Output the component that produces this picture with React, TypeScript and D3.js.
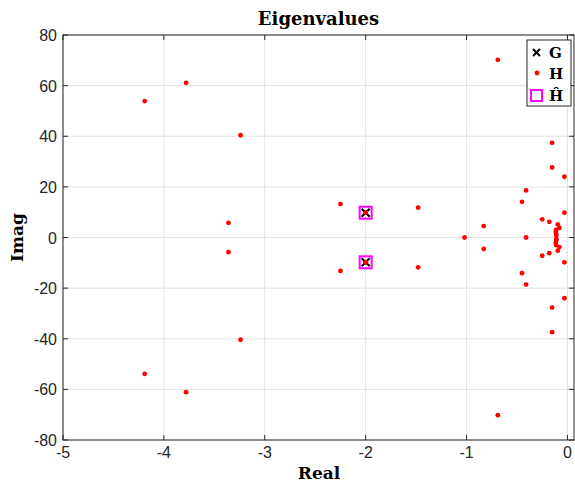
import React from "react";
import * as d3 from "d3";

const gRe = [-2, -2];
const gIm = [9.8, -9.8];

const hhatRe = [-2, -2];
const hhatIm = [9.8, -9.8];

const hRe = [
  -4.19, -4.19, -3.78, -3.78, -3.24, -3.24, -3.36, -3.36, -2.25, -2.25,
  -2, -2, -1.48, -1.48, -1.02, -0.83, -0.83, -0.69, -0.69, -0.45, -0.45,
  -0.41, -0.41, -0.41, -0.152, -0.152, -0.152, -0.152, -0.03, -0.03, -0.03, -0.03,
  -0.25, -0.25, -0.18, -0.18, -0.096, -0.096, -0.08, -0.08,
  -0.112, -0.112, -0.115, -0.115, -0.112, -0.112, -0.11, -0.11,
];
const hIm = [
  53.9, -53.9, 61.1, -61.1, 40.4, -40.4, 5.8, -5.8, 13.2, -13.2,
  9.8, -9.8, 11.8, -11.8, 0, 4.5, -4.5, 70.2, -70.2, 14.1, -14.1,
  18.6, -18.6, 0, 37.4, -37.4, 27.7, -27.7, 24, -24, 9.8, -9.8,
  7.2, -7.2, 6.2, -6.2, 5.2, -5.2, 3.8, -3.8,
  3.0, -3.0, 2.2, -2.2, 1.4, -1.4, 0.7, -0.7,
];

const xTicks = [-5, -4, -3, -2, -1, 0];
const yTicks = [-80, -60, -40, -20, 0, 20, 40, 60, 80];

const W = 575;
const H = 485;
const L = 63, R = 574, T = 35, B = 440;

export default function App() {
  const x = d3.scaleLinear().domain([-5, 0.065]).range([L, R]);
  const y = d3.scaleLinear().domain([-80, 80]).range([B, T]);
  const axisColor = "#262626";
  const serif = "'DejaVu Serif', 'Liberation Serif', serif";
  const sans = "'Liberation Sans', Arial, sans-serif";
  const legX = 527, legY = 40, legW = 44, legH = 66;
  return (
    <svg width={W} height={H} style={{ position: "absolute", left: 0, top: 0, background: "#fff" }}>
      <rect x={0} y={0} width={W} height={H} fill="#fff" />
      {xTicks.map((t) => (
        <line key={"gx" + t} x1={x(t)} x2={x(t)} y1={T} y2={B} stroke="#e3e3e3" strokeWidth={1} />
      ))}
      {yTicks.map((t) => (
        <line key={"gy" + t} x1={L} x2={R} y1={y(t)} y2={y(t)} stroke="#e3e3e3" strokeWidth={1} />
      ))}
      {hRe.map((re, i) => (
        <circle key={"h" + i} cx={x(re)} cy={y(hIm[i])} r={2.4} fill="#ff0000" />
      ))}
      {hhatRe.map((re, i) => (
        <rect key={"hh" + i} x={x(re) - 6} y={y(hhatIm[i]) - 6} width={12} height={12} fill="none" stroke="#ff00ff" strokeWidth={2} />
      ))}
      {gRe.map((re, i) => {
        const cx = x(re), cy = y(gIm[i]);
        return (
          <g key={"g" + i} stroke="#000" strokeWidth={2}>
            <line x1={cx - 4} y1={cy - 4} x2={cx + 4} y2={cy + 4} />
            <line x1={cx - 4} y1={cy + 4} x2={cx + 4} y2={cy - 4} />
          </g>
        );
      })}
      {hRe.map((re, i) =>
        re === -2 ? <circle key={"ho" + i} cx={x(re)} cy={y(hIm[i])} r={2.4} fill="#ff0000" /> : null
      )}
      <rect x={L} y={T} width={R - L} height={B - T} fill="none" stroke={axisColor} strokeWidth={1} />
      {xTicks.map((t) => (
        <g key={"tx" + t}>
          <line x1={x(t)} x2={x(t)} y1={B} y2={B - 5} stroke={axisColor} />
          <line x1={x(t)} x2={x(t)} y1={T} y2={T + 5} stroke={axisColor} />
          <text x={x(t)} y={B + 18} textAnchor="middle" fontFamily={sans} fontSize={16} fill={axisColor}>
            {t}
          </text>
        </g>
      ))}
      {yTicks.map((t) => (
        <g key={"ty" + t}>
          <line x1={L} x2={L + 5} y1={y(t)} y2={y(t)} stroke={axisColor} />
          <line x1={R} x2={R - 5} y1={y(t)} y2={y(t)} stroke={axisColor} />
          <text x={L - 6} y={y(t) + 6} textAnchor="end" fontFamily={sans} fontSize={16} fill={axisColor}>
            {t}
          </text>
        </g>
      ))}
      <text x={318.5} y={25} textAnchor="middle" fontFamily={serif} fontWeight="bold" fontSize={18} fill="#000">
        Eigenvalues
      </text>
      <text x={319} y={479} textAnchor="middle" fontFamily={serif} fontWeight="bold" fontSize={17} fill="#000">
        Real
      </text>
      <text transform={`translate(23, ${(T + B) / 2}) rotate(-90)`} textAnchor="middle" fontFamily={serif} fontWeight="bold" fontSize={17} fill="#000">
        Imag
      </text>
      <rect x={legX} y={legY} width={legW} height={legH} fill="#fff" stroke={axisColor} strokeWidth={1} />
      <g stroke="#000" strokeWidth={2}>
        <line x1={legX + 6} y1={legY + 9} x2={legX + 13} y2={legY + 16} />
        <line x1={legX + 6} y1={legY + 16} x2={legX + 13} y2={legY + 9} />
      </g>
      <text x={legX + 22} y={legY + 18} fontFamily={serif} fontWeight="bold" fontSize={15} fill="#000">G</text>
      <circle cx={legX + 10} cy={legY + 33} r={2.4} fill="#ff0000" />
      <text x={legX + 22} y={legY + 39} fontFamily={serif} fontWeight="bold" fontSize={15} fill="#000">H</text>
      <rect x={legX + 4} y={legY + 50} width={11} height={11} fill="none" stroke="#ff00ff" strokeWidth={2} />
      <text x={legX + 22} y={legY + 61} fontFamily={serif} fontWeight="bold" fontSize={15} fill="#000">Ĥ</text>
    </svg>
  );
}
